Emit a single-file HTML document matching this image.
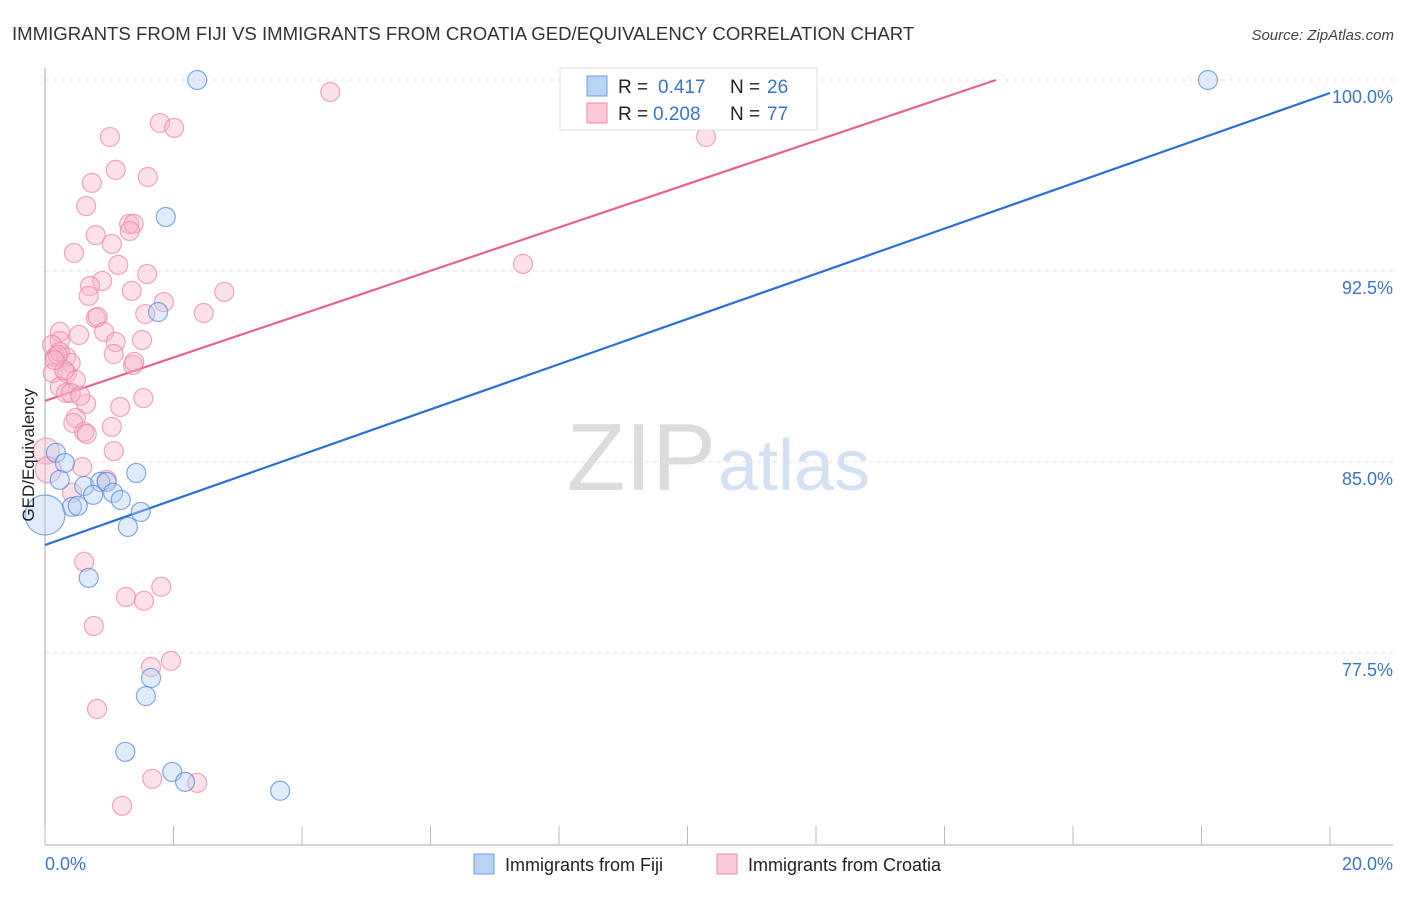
<!DOCTYPE html>
<html><head><meta charset="utf-8"><style>
body{margin:0;background:#fff;font-family:"Liberation Sans",sans-serif;}
svg text{font-family:"Liberation Sans",sans-serif;}
</style></head><body>
<svg id="chart" width="1406" height="892">
<text x="12" y="40" font-size="18.6" fill="#333">IMMIGRANTS FROM FIJI VS IMMIGRANTS FROM CROATIA GED/EQUIVALENCY CORRELATION CHART</text>
<text x="1394" y="40" font-size="15" fill="#444" font-style="italic" text-anchor="end">Source: ZipAtlas.com</text>
<text x="716" y="490" font-size="96" fill="#dcdcdc" text-anchor="end" font-family="Liberation Serif">ZIP</text>
<text x="718" y="490" font-size="72" fill="#d3e1f3">atlas</text>
<g id="grid"></g><g id="axes"></g><g id="trends"></g><g id="pts"></g>
<text transform="translate(34,455) rotate(-90)" font-size="17" fill="#222" text-anchor="middle">GED/Equivalency</text>
<text x="45" y="870" font-size="18" fill="#3b73d4">0.0%</text>
<text x="1393" y="870" font-size="18" fill="#3b73d4" text-anchor="end">20.0%</text>
<g>
<rect x="560" y="68" width="257" height="62" fill="#fff" stroke="#ddd"/>
<rect x="587" y="76" width="20" height="20" fill="#b9d3f5" stroke="#6a9be0"/>
<rect x="587" y="103" width="20" height="20" fill="#fbc9d8" stroke="#f08aa8"/>
<text x="618" y="93" font-size="19" fill="#222">R =</text>
<text x="658" y="93" font-size="19" fill="#3b73d4">0.417</text>
<text x="730" y="93" font-size="19" fill="#222">N =</text>
<text x="767" y="93" font-size="19" fill="#3b73d4">26</text>
<text x="618" y="120" font-size="19" fill="#222">R =</text>
<text x="653" y="120" font-size="19" fill="#3b73d4">0.208</text>
<text x="730" y="120" font-size="19" fill="#222">N =</text>
<text x="767" y="120" font-size="19" fill="#3b73d4">77</text>
</g>
<g>
<rect x="474" y="854" width="20" height="20" fill="#b9d3f5" stroke="#6a9be0"/>
<text x="505" y="871" font-size="18" fill="#222">Immigrants from Fiji</text>
<rect x="717" y="854" width="20" height="20" fill="#fbc9d8" stroke="#f08aa8"/>
<text x="748" y="871" font-size="18" fill="#222">Immigrants from Croatia</text>
</g>
</svg>
<script>
const yTicks=[100,92.5,85,77.5];
const yTickLabels=["100.0%","92.5%","85.0%","77.5%"];
const xTicks=[0,2,4,6,8,10,12,14,16,18,20];
const fijiX=[2.37,18.1,1.88,1.76,0.17,0.31,0.23,0.61,0.86,0.96,0.75,1.06,1.18,0.42,0.51,1.42,1.49,1.29,0,0.68,1.65,1.57,1.25,1.98,2.18,3.66];
const fijiY=[100,100,94.62,90.89,85.36,84.96,84.30,84.06,84.22,84.22,83.71,83.79,83.51,83.24,83.28,84.57,83.04,82.45,82.92,80.45,76.52,75.81,73.62,72.83,72.44,72.09];
const croX=[4.44,1.01,1.79,2.01,10.29,1.10,1.60,0.73,0.64,1.31,1.38,1.32,0.79,1.04,0.45,1.14,1.59,7.44,0.89,0.70,0.68,1.35,2.79,1.85,1.56,2.47,0.79,0.82,0.92,0.53,0.23,0.23,1.51,1.10,0.11,1.07,0.16,0.33,0.23,0.40,1.37,1.39,0.12,0.34,0.48,0.23,0.33,0.40,1.53,0.64,1.17,0.48,0.44,0.61,0.65,1.04,1.07,0.02,0.05,0.58,0.42,0.96,0.61,1.26,1.54,1.81,0.76,1.65,1.96,0.81,1.67,2.37,1.20,0.20,0.30,0.15,0.55];
const croY=[99.53,97.76,98.31,98.12,97.76,96.47,96.19,95.96,95.05,94.35,94.35,94.07,93.91,93.56,93.21,92.74,92.38,92.78,92.11,91.91,91.52,91.72,91.68,91.28,90.81,90.85,90.66,90.70,90.11,89.99,90.11,89.75,89.79,89.71,89.60,89.24,89.12,89.12,89.32,88.89,88.81,88.93,88.49,88.49,88.22,87.95,87.71,87.71,87.51,87.28,87.16,86.73,86.53,86.18,86.10,86.38,85.43,85.43,84.69,84.80,83.79,84.30,81.08,79.70,79.55,80.10,78.56,76.95,77.19,75.30,72.56,72.40,71.50,89.2,88.6,89.0,87.6];
const fijiTrend=[[0,81.74],[20,99.49]];
const croTrend=[[0,87.4],[14.8,100]];
const X=v=>45+v*64.25, Y=v=>80+(100-v)*191/7.5;
const NS="http://www.w3.org/2000/svg";
function mk(t,a,p){const e=document.createElementNS(NS,t);for(const k in a)e.setAttribute(k,a[k]);p.appendChild(e);return e;}
const grid=document.getElementById('grid'),axes=document.getElementById('axes'),tr=document.getElementById('trends'),pts=document.getElementById('pts');
yTicks.forEach((v,i)=>{
 const l=mk('line',{x1:45,x2:1393,y1:Y(v),y2:Y(v),stroke:'#e2e2e2','stroke-dasharray':'4,4'},grid);
 
 
 const t=mk('text',{x:1393,y:Y(v)+23,'font-size':18,fill:'#3b73d4','text-anchor':'end'},grid);
 t.textContent=yTickLabels[i];
 
 
});
mk('line',{x1:45,x2:45,y1:68,y2:845,stroke:'#aaa'},axes);
mk('line',{x1:45,x2:1393,y1:845,y2:845,stroke:'#aaa'},axes);
xTicks.forEach(v=>{
 const l=mk('line',{x1:X(v),x2:X(v),y1:826,y2:845,stroke:'#bbb'},axes);
 
 
});
function line(d,c,n){const l=mk('line',{x1:X(d[0][0]),y1:Y(d[0][1]),x2:X(d[1][0]),y2:Y(d[1][1]),stroke:c,'stroke-width':2.2},tr);
 
 }
line(croTrend,'#e8628e','croatia-trend-line');
line(fijiTrend,'#2a6fd6','fiji-trend-line');
function dots(xs,ys,fill,stroke,n){xs.forEach((x,i)=>{
 const r=(x<0.1)?(n==='fiji-point'&&ys[i]<83.5?20:13):9.5;
 const c=mk('circle',{cx:X(x),cy:Y(ys[i]),r:r,fill:fill,'fill-opacity':0.4,stroke:stroke,'stroke-opacity':0.7,'stroke-width':1.2},pts);
 
 });}
dots(croX,croY,'#f8b4c8','#ec82a3','croatia-point');
dots(fijiX,fijiY,'#b3cff3','#4f86dc','fiji-point');
</script>
</body></html>
